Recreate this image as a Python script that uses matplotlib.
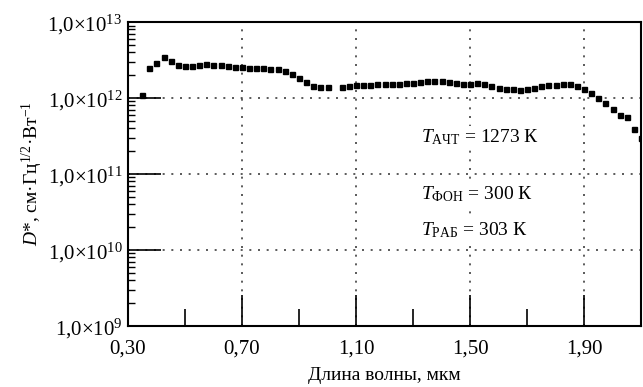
import numpy as np
from matplotlib import pyplot as plt
from matplotlib.ticker import LogLocator, FixedLocator, NullFormatter

plt.rcParams['font.family'] = ['Liberation Serif', 'DejaVu Serif']
plt.rcParams['mathtext.fontset'] = 'custom'
plt.rcParams['mathtext.rm'] = 'Liberation Serif'
plt.rcParams['mathtext.it'] = 'Liberation Serif:italic'

# wavelength, um
wavelength = [0.35, 0.375, 0.40, 0.425, 0.45, 0.475, 0.50, 0.525, 0.55, 0.575,
              0.60, 0.625, 0.65, 0.675, 0.70, 0.725, 0.75, 0.775, 0.80, 0.825,
              0.85, 0.875, 0.90, 0.925, 0.95, 0.975, 1.00,
              1.05, 1.075, 1.10, 1.125, 1.15, 1.175, 1.20, 1.225, 1.25, 1.275,
              1.30, 1.325, 1.35, 1.375, 1.40, 1.425, 1.45, 1.475, 1.50, 1.525,
              1.55, 1.575, 1.60, 1.625, 1.65, 1.675, 1.70, 1.725, 1.75, 1.775,
              1.80, 1.825, 1.85, 1.875, 1.90, 1.925, 1.95, 1.975, 2.00, 2.025,
              2.05, 2.075, 2.10]
# log10 of D*
log_d = [12.04, 12.40, 12.46, 12.54, 12.49, 12.43, 12.42, 12.42, 12.43, 12.45,
         12.44, 12.43, 12.42, 12.41, 12.41, 12.39, 12.39, 12.395, 12.385, 12.38,
         12.36, 12.32, 12.26, 12.21, 12.16, 12.15, 12.14,
         12.14, 12.16, 12.17, 12.175, 12.17, 12.18, 12.18, 12.184, 12.188, 12.197,
         12.197, 12.206, 12.22, 12.228, 12.228, 12.205, 12.195, 12.188, 12.188, 12.193,
         12.188, 12.158, 12.136, 12.125, 12.118, 12.109, 12.114, 12.136, 12.154, 12.167,
         12.175, 12.188, 12.184, 12.158, 12.12, 12.072, 11.998, 11.932, 11.853, 11.775,
         11.752, 11.595, 11.47]

x_major = [0.30, 0.70, 1.10, 1.50, 1.90]
x_minor = [0.50, 0.90, 1.30, 1.70]
x_labels = ['0,30', '0,70', '1,10', '1,50', '1,90']
y_major = [1e9, 1e10, 1e11, 1e12, 1e13]
y_labels = [r'1,0×10$^{9}$', r'1,0×10$^{10}$', r'1,0×10$^{11}$',
            r'1,0×10$^{12}$', r'1,0×10$^{13}$']

fig = plt.figure(figsize=(6.43, 3.87), dpi=100)
ax = fig.add_axes([0.199, 0.158, 0.798, 0.785])

ax.plot(wavelength, 10 ** np.array(log_d), linestyle='none', marker='s',
        markersize=3.6, color='black', zorder=3)

ax.set_yscale('log')
ax.set_xlim(0.30, 2.10)
ax.set_ylim(1e9, 1e13)

ax.xaxis.set_major_locator(FixedLocator(x_major))
ax.xaxis.set_minor_locator(FixedLocator(x_minor))
ax.set_xticklabels(x_labels)
ax.yaxis.set_major_locator(FixedLocator(y_major))
ax.yaxis.set_minor_locator(LogLocator(base=10, subs=np.arange(2, 10)))
ax.yaxis.set_minor_formatter(NullFormatter())
ax.set_yticklabels(y_labels)

ax.tick_params(axis='x', which='major', direction='in', length=22, width=1.2,
               labelsize=15, pad=10)
ax.tick_params(axis='x', which='minor', direction='in', length=12, width=1.2)
ax.tick_params(axis='y', which='major', direction='in', length=24, width=1.2,
               labelsize=15, pad=4)
ax.tick_params(axis='y', which='minor', direction='in', length=5, width=1.0)

# sparse dotted grid
ax.grid(True, which='major', linestyle=(0, (1.2, 4)), color='black',
        linewidth=1.2, alpha=0.75)
for s in ax.spines.values():
    s.set_linewidth(1.5)

ax.set_xlabel('Длина волны, мкм', fontsize=14, labelpad=6)
ax.set_ylabel(r'$D$*, см·Гц$^{1/2}$·Вт$^{-1}$', fontsize=14, labelpad=2)

bg = dict(facecolor='white', edgecolor='none', pad=1)
ax.text(0.572, 0.62, r'$T_{\mathrm{АЧТ}}$ = 1273 К', transform=ax.transAxes,
        fontsize=14, va='center', ha='left', bbox=bg)
ax.text(0.572, 0.435, r'$T_{\mathrm{ФОН}}$ = 300 К', transform=ax.transAxes,
        fontsize=14, va='center', ha='left', bbox=bg)
ax.text(0.572, 0.315, r'$T_{\mathrm{РАБ}}$ = 303 К', transform=ax.transAxes,
        fontsize=14, va='center', ha='left', bbox=bg)

fig.savefig('out.png', dpi=100)
